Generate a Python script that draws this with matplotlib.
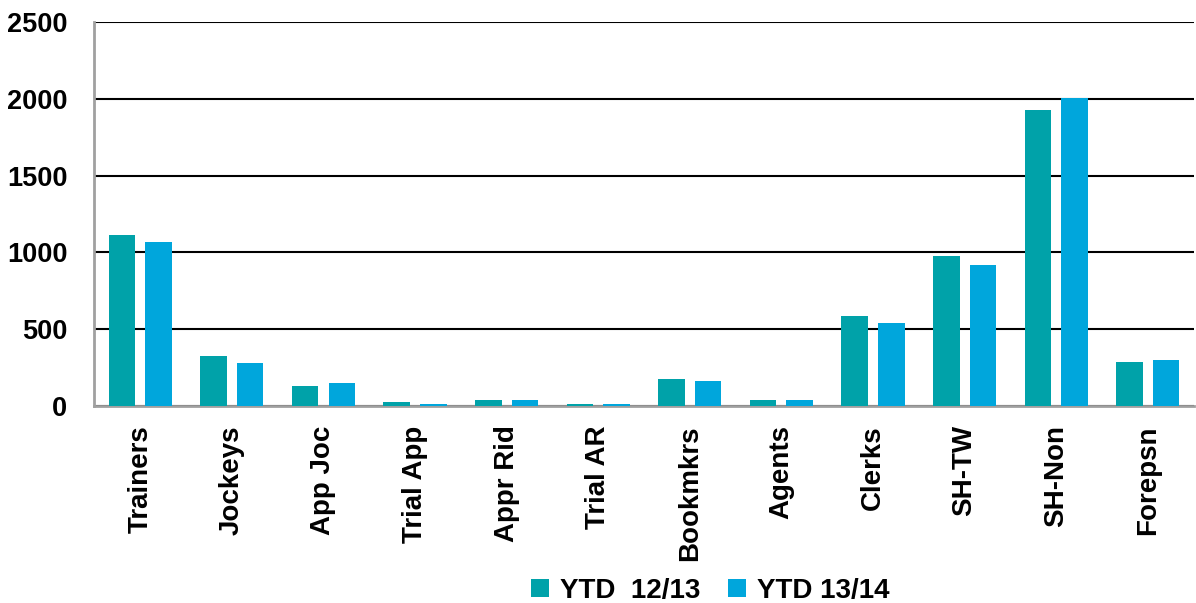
import numpy as np
import matplotlib.pyplot as plt

plt.rcParams["font.family"] = ["Liberation Sans", "DejaVu Sans"]
plt.rcParams["font.weight"] = "bold"

categories = ["Trainers", "Jockeys", "App Joc", "Trial App", "Appr Rid", "Trial AR",
              "Bookmkrs", "Agents", "Clerks", "SH-TW", "SH-Non", "Forepsn"]
ytd_1213 = [1113, 325, 130, 25, 40, 10, 176, 40, 586, 976, 1927, 286]
ytd_1314 = [1068, 280, 150, 10, 40, 10, 163, 40, 540, 918, 2005, 300]
series_names = ["YTD  12/13", "YTD 13/14"]

teal = "#00A2A9"
blue = "#00A6DC"

fig = plt.figure(figsize=(11.96, 6.03), dpi=100)
ax = fig.add_axes([0.079, 0.327, 0.919, 0.6365])

x = np.arange(len(categories))
w = 0.29
ax.bar(x - 0.2, ytd_1213, w, color=teal, label=series_names[0], zorder=3)
ax.bar(x + 0.2, ytd_1314, w, color=blue, label=series_names[1], zorder=3)

ax.set_ylim(0, 2500)
ax.set_yticks(range(0, 2501, 500))
ax.set_xlim(-0.5, 11.5)
ax.set_xticks(x)
ax.set_xticklabels(categories, rotation=90, fontsize=20, fontweight="bold")
ax.tick_params(axis="x", length=0, pad=14)
ax.tick_params(axis="y", length=0, labelsize=19.5, pad=19.5)
for lbl in ax.get_yticklabels():
    lbl.set_fontweight("bold")

ax.yaxis.grid(True, color="black", linewidth=1.5, zorder=0)
ax.set_axisbelow(True)
for s in ["top", "right"]:
    ax.spines[s].set_visible(False)
for s in ["left", "bottom"]:
    ax.spines[s].set_color("#A0A0A0")
    ax.spines[s].set_linewidth(2)

leg = fig.legend(loc="center", bbox_to_anchor=(0.594, 0.02), ncol=2, frameon=False,
                 prop={"size": 20, "weight": "bold"}, handlelength=0.65, handleheight=0.65,
                 handletextpad=0.4, columnspacing=1.0)

fig.savefig("out.png", dpi=100)
